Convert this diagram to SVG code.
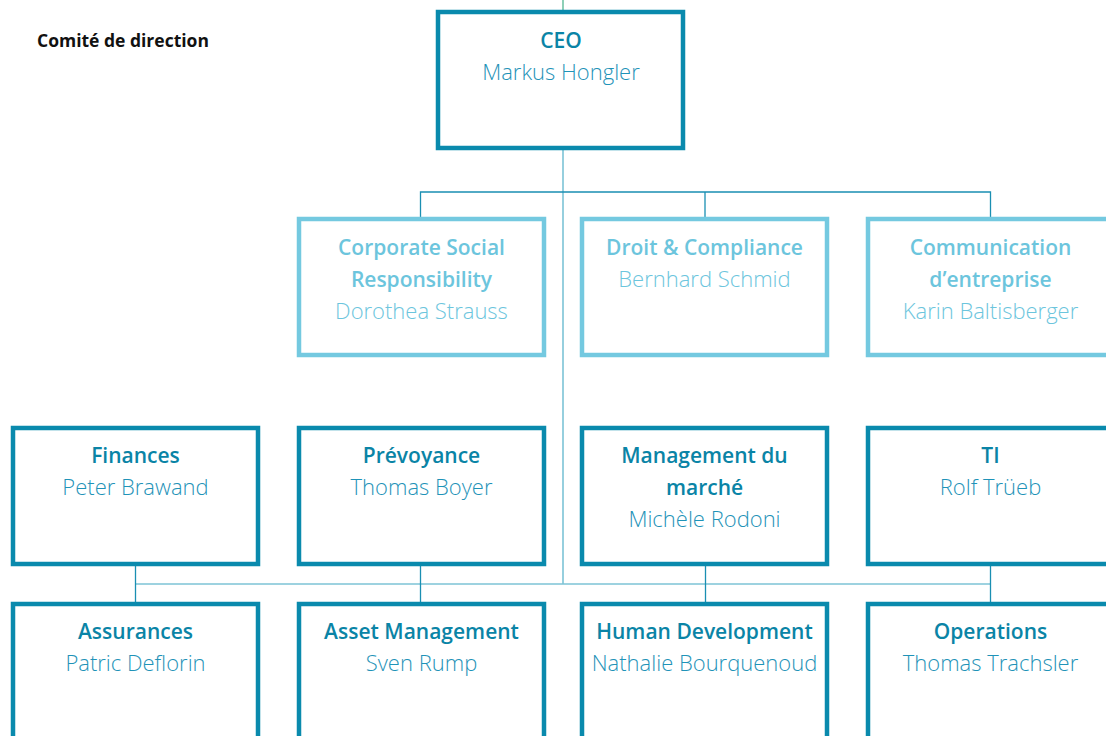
<svg xmlns="http://www.w3.org/2000/svg" width="1106" height="736" viewBox="0 0 1106 736">
<style>
.box{fill:#fff;stroke:#0a8aad;stroke-width:4.5}
.lbox{fill:#fff;stroke:#74c9e0;stroke-width:4.5}
.t{font-family:"Open Sans","Liberation Sans",sans-serif;font-size:21px;font-weight:600;text-anchor:middle;fill:#0a84a6}
.n{font-family:"Open Sans","Liberation Sans",sans-serif;font-size:22px;font-weight:300;text-anchor:middle;fill:#1f93b8}
.lt{font-family:"Open Sans","Liberation Sans",sans-serif;font-size:21px;font-weight:600;text-anchor:middle;fill:#6cc5dd}
.ln{font-family:"Open Sans","Liberation Sans",sans-serif;font-size:22px;font-weight:300;text-anchor:middle;fill:#6cc5dd}
.c{fill:none;stroke:#1a8fb2;stroke-width:1.3}
.cl{fill:none;stroke:#7cc3d6;stroke-width:1.6}
</style>
<rect width="1106" height="736" fill="#fff"/>
<text x="37" y="47" font-family="'Open Sans','Liberation Sans',sans-serif" font-size="17.5" font-weight="700" fill="#111">Comité de direction</text>
<g id="connectors">
<line x1="563" y1="0" x2="563" y2="12" stroke="#72c4a6" stroke-width="1.6"/>
<line class="cl" x1="563" y1="150" x2="563" y2="584"/>
<polyline class="c" points="420.5,219 420.5,192 990.5,192 990.5,219"/>
<line class="c" x1="705" y1="192" x2="705" y2="219"/>
<line class="cl" x1="135.5" y1="584" x2="990.5" y2="584"/>
<line class="c" x1="135.5" y1="566" x2="135.5" y2="604"/>
<line class="c" x1="420.5" y1="566" x2="420.5" y2="604"/>
<line class="c" x1="705.5" y1="566" x2="705.5" y2="604"/>
<line class="c" x1="990.5" y1="566" x2="990.5" y2="604"/>
</g>
<g id="ceo"><rect class="box" x="438" y="12" width="245" height="136"/><text class="t" x="561" y="48">CEO</text><text class="n" x="561" y="80">Markus Hongler</text></g>
<g id="csr"><rect class="lbox" x="299" y="219" width="245" height="136"/><text class="lt" x="421.5" y="255">Corporate Social</text><text class="lt" x="421.5" y="287">Responsibility</text><text class="ln" x="421.5" y="319">Dorothea Strauss</text></g>
<g id="droit"><rect class="lbox" x="582" y="219" width="245" height="136"/><text class="lt" x="704.5" y="255">Droit &amp; Compliance</text><text class="ln" x="704.5" y="287">Bernhard Schmid</text></g>
<g id="comm"><rect class="lbox" x="868" y="219" width="245" height="136"/><text class="lt" x="990.5" y="255">Communication</text><text class="lt" x="990.5" y="287">d’entreprise</text><text class="ln" x="990.5" y="319">Karin Baltisberger</text></g>
<g id="finances"><rect class="box" x="13" y="428" width="245" height="136"/><text class="t" x="135.5" y="463">Finances</text><text class="n" x="135.5" y="495">Peter Brawand</text></g>
<g id="prevoyance"><rect class="box" x="299" y="428" width="245" height="136"/><text class="t" x="421.5" y="463">Prévoyance</text><text class="n" x="421.5" y="495">Thomas Boyer</text></g>
<g id="marche"><rect class="box" x="582" y="428" width="245" height="136"/><text class="t" x="704.5" y="463">Management du</text><text class="t" x="704.5" y="495">marché</text><text class="n" x="704.5" y="527">Michèle Rodoni</text></g>
<g id="ti"><rect class="box" x="868" y="428" width="245" height="136"/><text class="t" x="990.5" y="463">TI</text><text class="n" x="990.5" y="495">Rolf Trüeb</text></g>
<g id="assurances"><rect class="box" x="13" y="604" width="245" height="140"/><text class="t" x="135.5" y="639">Assurances</text><text class="n" x="135.5" y="671">Patric Deflorin</text></g>
<g id="asset"><rect class="box" x="299" y="604" width="245" height="140"/><text class="t" x="421.5" y="639">Asset Management</text><text class="n" x="421.5" y="671">Sven Rump</text></g>
<g id="human"><rect class="box" x="582" y="604" width="245" height="140"/><text class="t" x="704.5" y="639">Human Development</text><text class="n" x="704.5" y="671">Nathalie Bourquenoud</text></g>
<g id="operations"><rect class="box" x="868" y="604" width="245" height="140"/><text class="t" x="990.5" y="639">Operations</text><text class="n" x="990.5" y="671">Thomas Trachsler</text></g>
</svg>
